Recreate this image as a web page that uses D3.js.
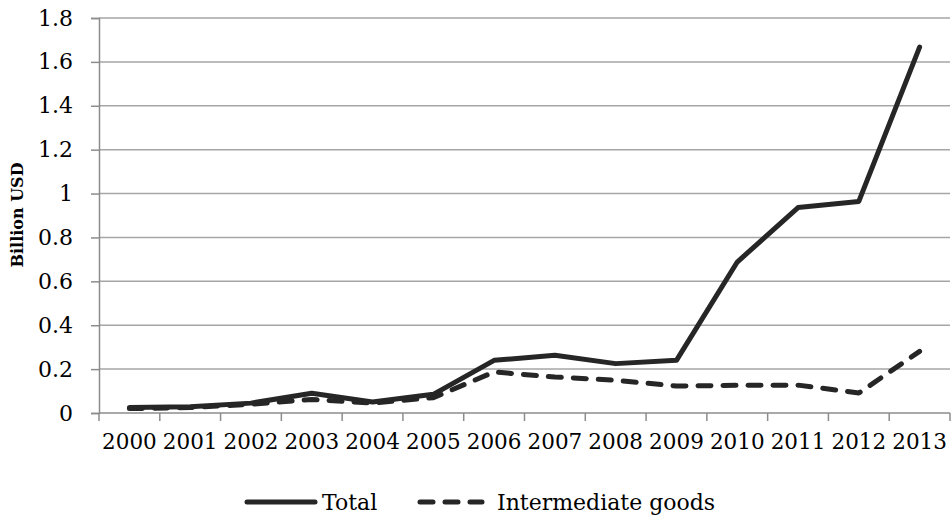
<!DOCTYPE html>
<html>
<head>
<meta charset="utf-8">
<script src="https://cdn.jsdelivr.net/npm/d3@7"></script>
<style>
  body { margin: 0; background: #fff; overflow: hidden; }
  svg { display: block; }
</style>
</head>
<body>
<div id="chart"></div>
<script>
// Data
const years = ["2000", "2001", "2002", "2003", "2004", "2005", "2006",
               "2007", "2008", "2009", "2010", "2011", "2012", "2013"];
const totalValues = [0.025, 0.028, 0.045, 0.09, 0.05, 0.085, 0.24,
                     0.263, 0.225, 0.24, 0.688, 0.936, 0.964, 1.667];
const intermediateValues = [0.02, 0.025, 0.04, 0.062, 0.045, 0.07, 0.187,
                            0.164, 0.149, 0.123, 0.126, 0.127, 0.091, 0.281];
const yTicks = [0, 0.2, 0.4, 0.6, 0.8, 1, 1.2, 1.4, 1.6, 1.8];

const width = 951;
const height = 517;
const margin = { top: 18, right: 1, bottom: 104, left: 99 };
const innerWidth = width - margin.left - margin.right;
const innerHeight = height - margin.top - margin.bottom;
const serif = "'DejaVu Serif', serif";

const svg = d3.select("#chart")
  .append("svg")
  .attr("width", width)
  .attr("height", height);

const innerChart = svg
  .append("g")
  .attr("transform", `translate(${margin.left}, ${margin.top})`);

// Scales
const xScale = d3.scaleBand()
  .domain(years)
  .range([0, innerWidth])
  .padding(0);

const yScale = d3.scaleLinear()
  .domain([0, 1.8])
  .range([innerHeight, 0]);

// Gridlines
innerChart.append("g")
  .selectAll("line")
  .data(yTicks.slice(1))
  .join("line")
    .attr("x1", 0)
    .attr("x2", innerWidth)
    .attr("y1", d => yScale(d))
    .attr("y2", d => yScale(d))
    .attr("stroke", "#a6a6a6")
    .attr("stroke-width", 1.5);

// Left axis
const leftAxis = d3.axisLeft(yScale)
  .tickValues(yTicks)
  .tickFormat(d => d3.format("~g")(d))
  .tickSize(8)
  .tickPadding(18);

const yAxisG = innerChart.append("g").call(leftAxis);
yAxisG.attr("font-family", serif).attr("font-size", 22);
yAxisG.select(".domain").attr("stroke", "#8c8c8c").attr("stroke-width", 1.5);
yAxisG.selectAll(".tick line").attr("stroke", "#8c8c8c").attr("stroke-width", 1.5);
yAxisG.selectAll(".tick text").attr("fill", "#000");

// Bottom axis, ticks sit between the categories
const bottomAxis = d3.axisBottom(xScale)
  .tickSize(0)
  .tickPadding(16);

const xAxisG = innerChart.append("g")
  .attr("transform", `translate(0, ${innerHeight})`)
  .call(bottomAxis);
xAxisG.attr("font-family", serif).attr("font-size", 21.5);
xAxisG.select(".domain").remove();
xAxisG.selectAll(".tick text")
  .attr("dy", "0.95em")
  .attr("fill", "#000");

innerChart.append("line")
  .attr("x1", 0)
  .attr("x2", innerWidth)
  .attr("y1", innerHeight)
  .attr("y2", innerHeight)
  .attr("stroke", "#8c8c8c")
  .attr("stroke-width", 1.5);

innerChart.append("g")
  .selectAll("line")
  .data(d3.range(years.length + 1))
  .join("line")
    .attr("x1", i => i * xScale.step())
    .attr("x2", i => i * xScale.step())
    .attr("y1", innerHeight)
    .attr("y2", innerHeight + 8)
    .attr("stroke", "#8c8c8c")
    .attr("stroke-width", 1.5);

// Lines
const lineGenerator = d3.line()
  .x((d, i) => xScale(years[i]) + xScale.bandwidth() / 2)
  .y(d => yScale(d));

innerChart.append("path")
  .attr("d", lineGenerator(intermediateValues))
  .attr("fill", "none")
  .attr("stroke", "#262626")
  .attr("stroke-width", 5)
  .attr("stroke-linecap", "round")
  .attr("stroke-linejoin", "round")
  .attr("stroke-dasharray", "13,12");

innerChart.append("path")
  .attr("d", lineGenerator(totalValues))
  .attr("fill", "none")
  .attr("stroke", "#262626")
  .attr("stroke-width", 5)
  .attr("stroke-linecap", "round")
  .attr("stroke-linejoin", "round");

// Y-axis title
svg.append("text")
  .attr("transform", "translate(23, 215) rotate(-90)")
  .attr("text-anchor", "middle")
  .attr("font-family", serif)
  .attr("font-weight", "bold")
  .attr("font-size", 16)
  .text("Billion USD");

// Legend
const legendItems = [
  { label: "Total", dash: null, x1: 247, x2: 315, tx: 322 },
  { label: "Intermediate goods", dash: "13,12", x1: 420, x2: 482, tx: 497 }
];

const legend = svg.append("g");
legendItems.forEach(item => {
  legend.append("line")
    .attr("x1", item.x1)
    .attr("x2", item.x2)
    .attr("y1", 502)
    .attr("y2", 502)
    .attr("stroke", "#262626")
    .attr("stroke-width", 5)
    .attr("stroke-linecap", "round")
    .attr("stroke-dasharray", item.dash);
  legend.append("text")
    .attr("x", item.tx)
    .attr("y", 510)
    .attr("font-family", serif)
    .attr("font-size", 22)
    .text(item.label);
});
</script>
</body>
</html>
